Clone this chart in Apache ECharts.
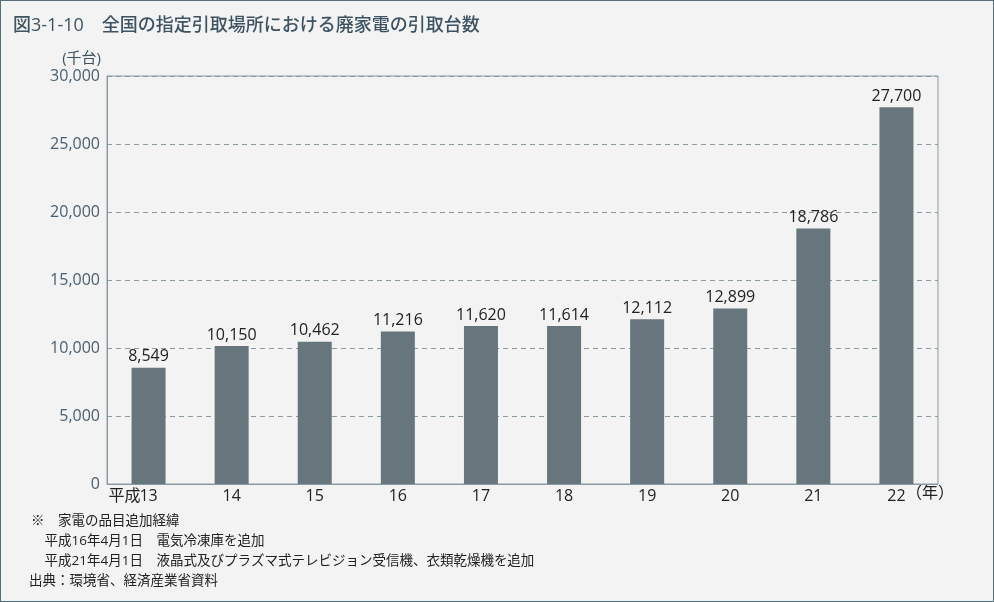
<!DOCTYPE html>
<html><head><meta charset="utf-8">
<script src="https://cdn.jsdelivr.net/npm/echarts@6/dist/echarts.min.js"></script>
<style>html,body{margin:0;padding:0;background:#f3f3f3;}#c{width:994px;height:602px;box-sizing:border-box;border:1px solid #566d7a;}</style>
</head><body><div id="c"></div>
<script>
const categories = ['平成13','14','15','16','17','18','19','20','21','22'];
const values = [8549,10150,10462,11216,11620,11614,12112,12899,18786,27700];
const yTicks = [0,5000,10000,15000,20000,25000,30000];
const title = '図3-1-10　全国の指定引取場所における廃家電の引取台数';
const notes = ['※　家電の品目追加経緯','　平成16年4月1日　電気冷凍庫を追加','　平成21年4月1日　液晶式及びプラズマ式テレビジョン受信機、衣類乾燥機を追加','出典：環境省、経済産業省資料'];
const F = '"Open Sans","Noto Sans CJK JP",sans-serif';
const chart = echarts.init(document.getElementById('c'));
chart.setOption({
  backgroundColor:'#f3f3f3',
  animation:false,
  textStyle:{fontFamily:F},
  grid:{left:106,right:55,top:75,bottom:117,show:true,borderColor:'#8a9aa2',borderWidth:1,backgroundColor:'transparent'},
  xAxis:{type:'category',data:categories,
    axisLine:{lineStyle:{color:'#8a9aa2'}},axisTick:{show:false},
    axisLabel:{interval:0,hideOverlap:false,color:'#222',fontSize:16,fontFamily:F,margin:4,
      formatter:(v,i)=> i===0 ? '{h|平成}{n|13}{s|}' : v,
      rich:{h:{fontSize:16,fontFamily:F,color:'#222',width:30},n:{fontSize:16,fontFamily:F,color:'#222'},s:{width:30}}}},
  yAxis:{type:'value',min:0,max:30000,interval:5000,
    name:'(千台)',nameLocation:'end',nameGap:10,nameTextStyle:{color:'#3d5361',fontSize:15,fontFamily:F,align:'right',padding:[0,6,0,0]},
    axisLine:{show:true,lineStyle:{color:'#8a9aa2'}},axisTick:{show:false},
    axisLabel:{color:'#4a6070',fontSize:16,fontFamily:F,margin:7,formatter:v=>v.toLocaleString('en-US')},
    splitLine:{lineStyle:{color:'#8a9aa2',type:[5,4]}}},
  series:[{type:'bar',data:values,barWidth:34,itemStyle:{color:'#67757d'},
    label:{show:true,position:'top',color:'#222',fontSize:16,fontFamily:F,distance:3,formatter:p=>p.value.toLocaleString('en-US')}}],
  graphic:[
    {type:'text',left:12,top:16,style:{text:title,fill:'#3d5361',font:'500 18px '+F}},
    {type:'text',left:905,top:484,style:{text:'（年）',fill:'#222',font:'16px '+F}},
    ...notes.map((t,i)=>({type:'text',left:i===3?28:30,top:513+i*20,style:{text:t,fill:'#222',font:'13.5px '+F}}))
  ]
});
</script></body></html>
